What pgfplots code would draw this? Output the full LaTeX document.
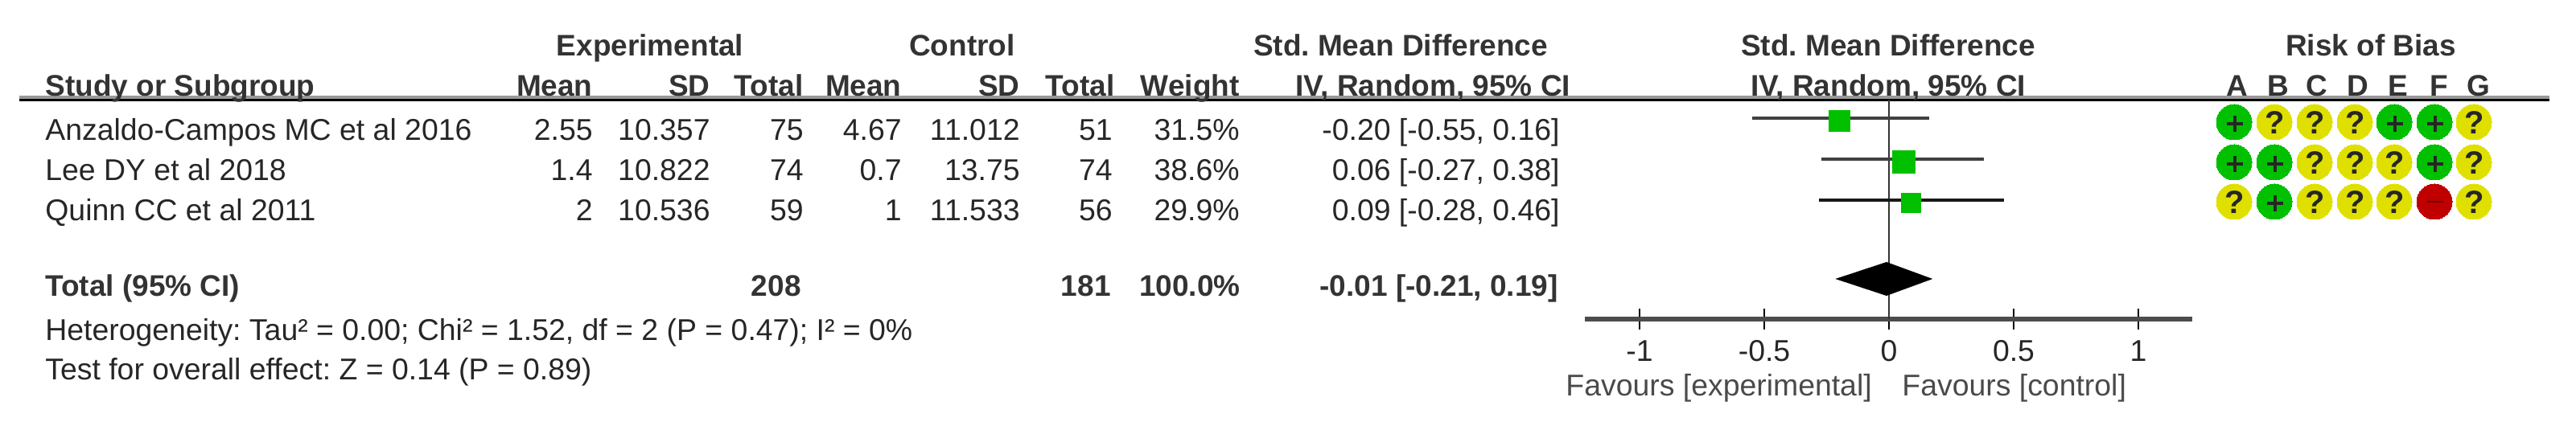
\documentclass[border=0pt]{standalone}
\usepackage{pgfplots}
\pgfplotsset{compat=1.18}
\usepackage{fontspec}
\setmainfont{Liberation Sans}
\frenchspacing
\definecolor{gr}{HTML}{00C000}
\definecolor{ye}{HTML}{E0E000}
\definecolor{re}{HTML}{C00000}
\definecolor{tx}{HTML}{262626}
\definecolor{hd}{HTML}{333333}
\definecolor{fv}{HTML}{4A4A4A}
\newcommand{\fs}{\fontsize{18.7}{20}\selectfont}
\newcommand{\fb}{\fontsize{18.5}{20}\selectfont\bfseries}
% right aligned, left aligned, centred text in pixel coordinates
\newcommand{\R}[3]{\node[anchor=base east,inner sep=0pt,text=tx,font=\fs] at (axis cs:#1,-#2) {#3};}
\newcommand{\Lf}[3]{\node[anchor=base west,inner sep=0pt,text=tx,font=\fs] at (axis cs:#1,-#2) {#3};}
\newcommand{\RB}[3]{\node[anchor=base east,inner sep=0pt,text=hd,font=\fb] at (axis cs:#1,-#2) {#3};}
\newcommand{\LB}[3]{\node[anchor=base west,inner sep=0pt,text=hd,font=\fb] at (axis cs:#1,-#2) {#3};}
\newcommand{\CB}[3]{\node[anchor=base,inner sep=0pt,text=hd,font=\fb] at (axis cs:#1,-#2) {#3};}
\begin{document}
\begin{tikzpicture}
\useasboundingbox (0,0) rectangle (1601pt,267.5pt);
% ---- table layer, in pixels of the reference
\begin{axis}[at={(0,0)},anchor=south west,scale only axis,width=1601pt,height=267.5pt,
  xmin=0,xmax=3202,ymin=-535,ymax=0,hide axis,clip=false]
\addplot[draw=black!40,line width=1.6pt] coordinates {(24,-121) (3169,-121)};
\addplot[draw=black,line width=1.6pt] coordinates {(24,-124.5) (3169,-124.5)};
% header
\CB{808}{70}{Experimental}
\CB{1196}{70}{Control}
\CB{1741}{70}{Std. Mean Difference}
\CB{2347}{70}{Std. Mean Difference}
\CB{2947}{70}{Risk of Bias}
\LB{56}{120}{Study or Subgroup}
\RB{737}{120}{Mean}
\RB{883}{120}{SD}
\RB{999}{120}{Total}
\RB{1121}{120}{Mean}
\RB{1268}{120}{SD}
\RB{1386}{120}{Total}
\RB{1541}{120}{Weight}
\CB{1781}{120}{IV, Random, 95\% CI}
\CB{2347}{120}{IV, Random, 95\% CI}
\CB{2781}{120}{A}
\CB{2832}{120}{B}
\CB{2880}{120}{C}
\CB{2931}{120}{D}
\CB{2981}{120}{E}
\CB{3032}{120}{F}
\CB{3081}{120}{G}
% rows
\Lf{56}{175}{Anzaldo-Campos MC et al 2016}
\R{737}{175}{2.55}\R{883}{175}{10.357}\R{999}{175}{75}
\R{1121}{175}{4.67}\R{1268}{175}{11.012}\R{1383}{175}{51}
\R{1541}{175}{31.5\%}\R{1939}{175}{-0.20 [-0.55, 0.16]}
\Lf{56}{225}{Lee DY et al 2018}
\R{737}{225}{1.4}\R{883}{225}{10.822}\R{999}{225}{74}
\R{1121}{225}{0.7}\R{1268}{225}{13.75}\R{1383}{225}{74}
\R{1541}{225}{38.6\%}\R{1939}{225}{0.06 [-0.27, 0.38]}
\Lf{56}{275}{Quinn CC et al 2011}
\R{737}{275}{2}\R{883}{275}{10.536}\R{999}{275}{59}
\R{1121}{275}{1}\R{1268}{275}{11.533}\R{1383}{275}{56}
\R{1541}{275}{29.9\%}\R{1939}{275}{0.09 [-0.28, 0.46]}
% total
\LB{56}{369}{Total (95\% CI)}
\RB{996}{369}{208}
\RB{1381}{369}{181}
\RB{1542}{369}{100.0\%}
\RB{1937}{369}{-0.01 [-0.21, 0.19]}
\Lf{56}{424}{Heterogeneity: Tau² = 0.00; Chi² = 1.52, df = 2 (P = 0.47); I² = 0\%}
\Lf{56}{473}{Test for overall effect: Z = 0.14 (P = 0.89)}
\node[anchor=base west,inner sep=0pt,text=fv,font=\fs] at (axis cs:1946,-493) {Favours [experimental]};
\node[anchor=base west,inner sep=0pt,text=fv,font=\fs] at (axis cs:2364,-493) {Favours [control]};
% risk of bias circles
\addplot[gr,only marks,mark=*,mark size=11pt,mark options={solid,fill=gr,draw=gr,line width=0pt}] coordinates {
 (2777,-152)(2976,-152)(3026,-152)
 (2777,-202)(2827,-202)(3026,-202)
 (2827,-251)};
\addplot[ye,only marks,mark=*,mark size=11pt,mark options={solid,fill=ye,draw=ye,line width=0pt}] coordinates {
 (2827,-152)(2877,-152)(2927,-152)(3075,-152)
 (2877,-202)(2927,-202)(2976,-202)(3075,-202)
 (2777,-251)(2877,-251)(2927,-251)(2976,-251)(3075,-251)};
\addplot[re,only marks,mark=*,mark size=11pt,mark options={solid,fill=re,draw=re,line width=0pt}] coordinates {(3026,-251)};
\addplot[black!85,only marks,mark=+,mark size=4.8pt,mark options={solid,draw=black!85,line width=1.6pt}] coordinates {
 (2778,-154)(2977,-154)(3027,-154)
 (2778,-204)(2828,-204)(3027,-204)
 (2828,-253)};
\addplot[black!85,only marks,mark=text,text mark={\fontsize{20}{20}\selectfont\bfseries\color{black!85}?},mark options={solid}] coordinates {
 (2828,-153)(2878,-153)(2928,-153)(3076,-153)
 (2878,-203)(2928,-203)(2977,-203)(3076,-203)
 (2778,-252)(2878,-252)(2928,-252)(2977,-252)(3076,-252)};
\addplot[black!50!re,only marks,mark=-,mark size=5pt,mark options={solid,draw=black!50!re,line width=1.2pt}] coordinates {(3027,-251)};
\end{axis}
% ---- forest plot: x is the effect, y is in pixels of the reference
\begin{axis}[at={(985pt,69pt)},anchor=south west,scale only axis,width=377.5pt,height=136.5pt,
  xmin=-1.2194,xmax=1.2161,ymin=-397,ymax=-124,clip=false,
  axis x line=bottom,axis y line=none,
  x axis line style={-,draw=black!70,line width=2.8pt},
  xtick={-1,-0.5,0,0.5,1},xticklabels={-1,-0.5,0,0.5,1},
  xtick align=center,major tick length=13pt,
  every tick/.style={draw=black,line width=1pt},
  xticklabel style={font=\fs,text=tx,anchor=base,inner sep=0pt,yshift=-20pt},
  minor tick num=0]
\addplot[draw=black!80,line width=1.2pt] coordinates {(0,-124) (0,-397)};
\addplot[draw=black!75,line width=1.8pt] coordinates {(-0.55,-147) (0.16,-147)};
\addplot[draw=black!75,line width=1.8pt] coordinates {(-0.27,-198) (0.38,-198)};
\addplot[draw=black!90,line width=1.8pt] coordinates {(-0.28,-249) (0.46,-249)};
\addplot[gr,only marks,mark=square*,mark size=6.5pt,mark options={solid,fill=gr,draw=gr,line width=0pt}] coordinates {(-0.20,-151)};
\addplot[gr,only marks,mark=square*,mark size=7pt,mark options={solid,fill=gr,draw=gr,line width=0pt}] coordinates {(0.06,-202)};
\addplot[gr,only marks,mark=square*,mark size=6pt,mark options={solid,fill=gr,draw=gr,line width=0pt}] coordinates {(0.09,-253)};
\addplot[fill=black,draw=none] coordinates {(-0.215,-347) (-0.01,-326) (0.175,-347) (-0.01,-368)} --cycle;
\end{axis}
\end{tikzpicture}
\end{document}
